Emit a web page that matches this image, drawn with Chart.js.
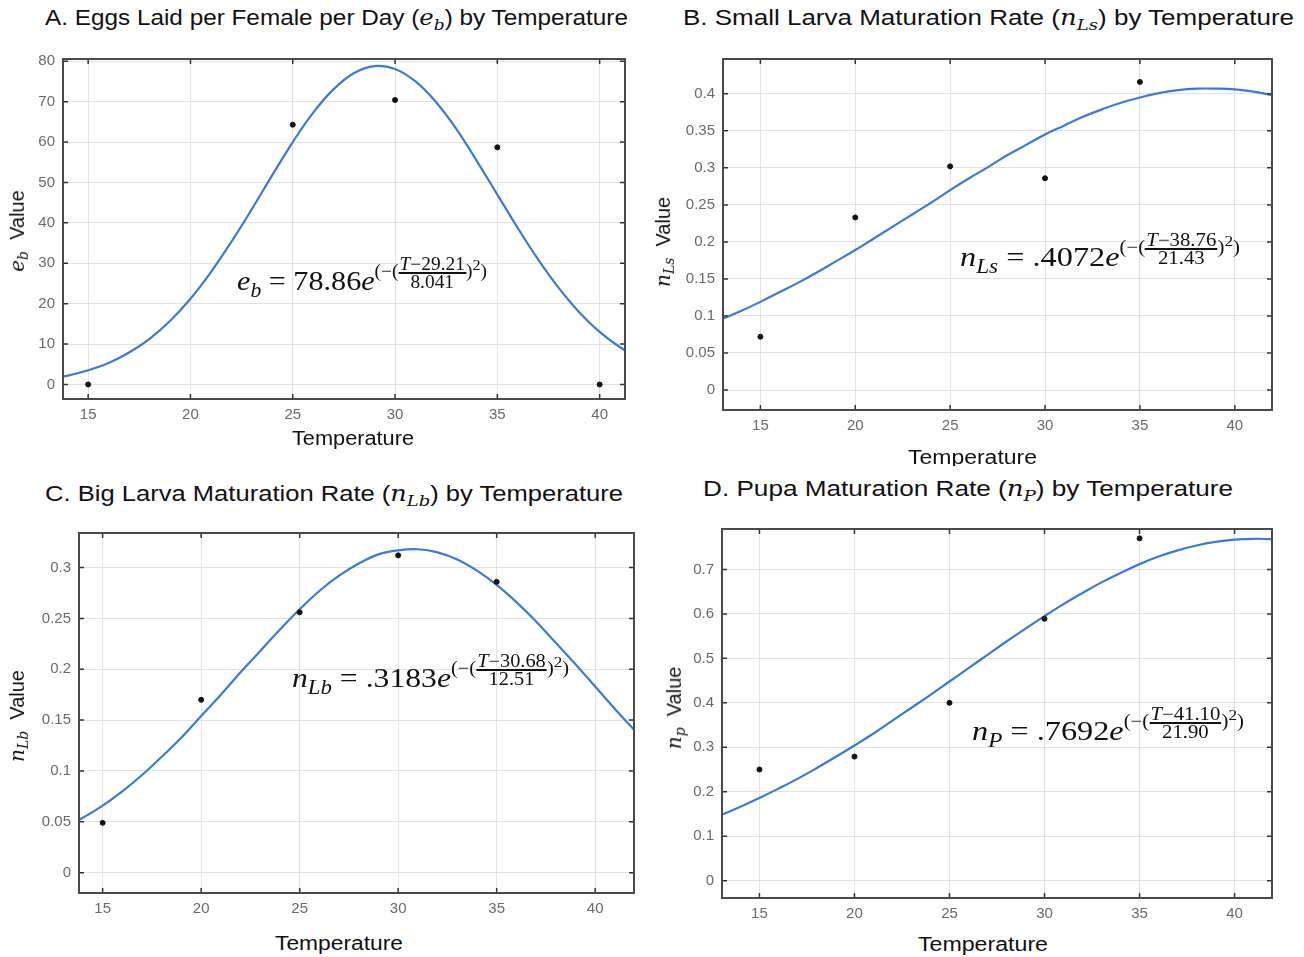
<!DOCTYPE html>
<html lang="en">
<head>
    <meta charset="UTF-8">
    <title>Temperature fits</title>
    <style>
        body { margin: 0; background: #fff; width: 1304px; height: 957px; position: relative; overflow: hidden;
               font-family: "Liberation Sans", Arial, sans-serif; color: #111; }
        canvas { position: absolute; }
        .title, .xlab, .ylab, .eq { position: absolute; white-space: nowrap; }
        .title { font-size: 22px; transform-origin: 0 0; }
        .xlab { font-size: 20px; transform-origin: 0 0; }
        .ylab { font-size: 20px; transform: translate(-50%, -50%) rotate(-90deg); }
        .m { font-family: "DejaVu Serif", "Liberation Serif", serif; font-style: italic; }
        .m sub { font-size: 0.7em; vertical-align: -0.3em; }
        .eq { font-family: "Liberation Serif", "DejaVu Serif", serif; font-size: 28px; transform-origin: 0 0; }
        .eq i { font-style: italic; }
        .eq sub { font-size: 0.72em; vertical-align: -0.35em; font-style: italic; }
        .eq .sup { display: inline-block; font-size: 18px; vertical-align: 13px; }
        .frac { display: inline-block; vertical-align: middle; text-align: center; line-height: 16px; }
        .frac .num { display: block; border-bottom: 2px solid #111; padding: 0 1px; }
        .frac .den { display: block; }
        .clipB { position: absolute; left: 650px; top: 440px; width: 654px; height: 26px; overflow: hidden; }
    </style>
</head>
<body>

    <div class="title" data-w="583" style="left:45px; top:5px;">A. Eggs Laid per Female per Day (<span class="m">e<sub>b</sub></span>) by Temperature</div>
    <div class="title" data-w="611" style="left:683px; top:5px;">B. Small Larva Maturation Rate (<span class="m">n<sub>Ls</sub></span>) by Temperature</div>
    <div class="title" data-w="578" style="left:45px; top:481px;">C. Big Larva Maturation Rate (<span class="m">n<sub>Lb</sub></span>) by Temperature</div>
    <div class="title" data-w="530" style="left:703px; top:476px;">D. Pupa Maturation Rate (<span class="m">n<sub>P</sub></span>) by Temperature</div>

    <canvas id="chartA"></canvas>
    <canvas id="chartB"></canvas>
    <canvas id="chartC"></canvas>
    <canvas id="chartD"></canvas>

    <div class="xlab" data-w="122" style="left:292px; top:427px;">Temperature</div>
    <div class="clipB"><div class="xlab" data-w="129" style="left:258px; top:6px;">Temperature</div></div>
    <div class="xlab" data-w="128" style="left:275px; top:932px;">Temperature</div>
    <div class="xlab" data-w="130" style="left:918px; top:933px;">Temperature</div>

    <div class="ylab" style="left:18px; top:231px;"><span class="m">e<sub>b</sub></span>&nbsp; Value</div>
    <div class="ylab" style="left:664px; top:242px;"><span class="m">n<sub>Ls</sub></span>&nbsp; Value</div>
    <div class="ylab" style="left:18px; top:716px;"><span class="m">n<sub>Lb</sub></span>&nbsp; Value</div>
    <div class="ylab" style="left:675px; top:708px;"><span class="m">n<sub>p</sub></span>&nbsp; Value</div>

    <div class="eq" data-w="250" style="left:237px; top:256px;"><i>e</i><sub>b</sub> = 78.86<i>e</i><span class="sup">(−(<span class="frac"><span class="num"><i>T</i>−29.21</span><span class="den">8.041</span></span>)<sup>2</sup>)</span></div>
    <div class="eq" data-w="280" style="left:960px; top:232px;"><i>n</i><sub>Ls</sub> = .4072<i>e</i><span class="sup">(−(<span class="frac"><span class="num"><i>T</i>−38.76</span><span class="den">21.43</span></span>)<sup>2</sup>)</span></div>
    <div class="eq" data-w="277" style="left:292px; top:653px;"><i>n</i><sub>Lb</sub> = .3183<i>e</i><span class="sup">(−(<span class="frac"><span class="num"><i>T</i>−30.68</span><span class="den">12.51</span></span>)<sup>2</sup>)</span></div>
    <div class="eq" data-w="272" style="left:972px; top:706px;"><i>n</i><sub>P</sub> = .7692<i>e</i><span class="sup">(−(<span class="frac"><span class="num"><i>T</i>−41.10</span><span class="den">21.90</span></span>)<sup>2</sup>)</span></div>

    <script src="https://cdn.jsdelivr.net/npm/chart.js@4"></script>
    <script>
    // temperatures shared by all panels
    const tempTicks = [15, 20, 25, 30, 35, 40];
    const fitTemp = [13, 14, 15, 16, 17, 18, 19, 20, 21, 22, 23, 24, 25, 26, 27,
                     28, 29, 30, 31, 32, 33, 34, 35, 36, 37, 38, 39, 40, 41, 42];

    // A. eggs laid per female per day
    const eggTicks = [0, 10, 20, 30, 40, 50, 60, 70, 80];
    const eggTickLabels = ['0', '10', '20', '30', '40', '50', '60', '70', '80'];
    const eggObsTemp = [15, 25, 30, 35, 40];
    const eggObs = [0, 64.3, 70.4, 58.7, 0];
    const eggFit = [1.4, 2.2, 3.5, 5.3, 7.9, 11.3, 15.7, 21.2, 27.8, 35.3, 43.4, 51.8, 60.0, 67.3, 73.1,
                    77.1, 78.8, 78.1, 75.0, 69.9, 63.2, 55.3, 47.0, 38.7, 30.9, 23.9, 17.9, 13.0, 9.2, 6.3];

    // B. small larva maturation rate
    const lsTicks = [0, 0.05, 0.1, 0.15, 0.2, 0.25, 0.3, 0.35, 0.4];
    const lsTickLabels = ['0', '0.05', '0.1', '0.15', '0.2', '0.25', '0.3', '0.35', '0.4'];
    const lsObsTemp = [15, 20, 25, 30, 35];
    const lsObs = [0.072, 0.233, 0.302, 0.286, 0.416];
    const lsFit = [0.096, 0.107, 0.119, 0.132, 0.145, 0.159, 0.174, 0.189, 0.205, 0.221, 0.237, 0.253, 0.270, 0.286, 0.301,
                   0.317, 0.331, 0.345, 0.357, 0.369, 0.379, 0.388, 0.395, 0.401, 0.405, 0.407, 0.407, 0.406, 0.403, 0.398];

    // C. big larva maturation rate
    const lbTicks = [0, 0.05, 0.1, 0.15, 0.2, 0.25, 0.3];
    const lbTickLabels = ['0', '0.05', '0.1', '0.15', '0.2', '0.25', '0.3'];
    const lbObsTemp = [15, 20, 25, 30, 35];
    const lbObs = [0.049, 0.170, 0.256, 0.312, 0.286];
    const lbFit = [0.043, 0.054, 0.066, 0.080, 0.096, 0.114, 0.133, 0.154, 0.175, 0.197, 0.218, 0.239, 0.259, 0.277, 0.292,
                   0.304, 0.313, 0.317, 0.318, 0.315, 0.308, 0.297, 0.283, 0.266, 0.247, 0.226, 0.205, 0.183, 0.161, 0.140];

    // D. pupa maturation rate
    const pTicks = [0, 0.1, 0.2, 0.3, 0.4, 0.5, 0.6, 0.7];
    const pTickLabels = ['0', '0.1', '0.2', '0.3', '0.4', '0.5', '0.6', '0.7'];
    const pObsTemp = [15, 20, 25, 30, 35];
    const pObs = [0.250, 0.279, 0.400, 0.589, 0.770];
    const pFit = [0.148, 0.166, 0.186, 0.207, 0.229, 0.253, 0.278, 0.304, 0.331, 0.360, 0.389, 0.418, 0.448, 0.478, 0.508,
                  0.538, 0.567, 0.595, 0.622, 0.647, 0.671, 0.692, 0.712, 0.729, 0.743, 0.754, 0.762, 0.767, 0.769, 0.768];

    // box around the plot with small inward ticks on every side
    const framePlugin = {
        id: 'frame',
        afterDraw(chart) {
            const ctx = chart.ctx;
            const a = chart.chartArea;
            const x = chart.scales.x, y = chart.scales.y;
            ctx.save();
            ctx.strokeStyle = '#333';
            ctx.lineWidth = 1.5;
            ctx.beginPath();
            x.ticks.forEach(function(t) {
                const px = x.getPixelForValue(t.value);
                ctx.moveTo(px, a.bottom); ctx.lineTo(px, a.bottom - 5);
                ctx.moveTo(px, a.top); ctx.lineTo(px, a.top + 5);
            });
            y.ticks.forEach(function(t) {
                const py = y.getPixelForValue(t.value);
                ctx.moveTo(a.left, py); ctx.lineTo(a.left + 5, py);
                ctx.moveTo(a.right, py); ctx.lineTo(a.right - 5, py);
            });
            ctx.stroke();
            ctx.strokeStyle = '#4a4a4a';
            ctx.lineWidth = 2;
            ctx.strokeRect(a.left, a.top, a.right - a.left, a.bottom - a.top);
            ctx.restore();
        }
    };

    function pairs(xs, ys) {
        return xs.map(function(v, i) { return { x: v, y: ys[i] }; });
    }

    function drawPanel(id, box, xMin, xMax, yMin, yMax, yTicks, yLabels, fit, obsX, obs) {
        const padL = 52, padT = 12, padR = 12, padB = 34;
        const canvas = document.getElementById(id);
        canvas.width = box.right - box.left + padL + padR;
        canvas.height = box.bottom - box.top + padT + padB;
        canvas.style.left = (box.left - padL) + 'px';
        canvas.style.top = (box.top - padT) + 'px';

        new Chart(canvas, {
            type: 'scatter',
            data: {
                datasets: [{
                    type: 'line',
                    data: pairs(fitTemp, fit),
                    borderColor: '#3d7bd0',
                    borderWidth: 2.2,
                    pointRadius: 0,
                    tension: 0.4,
                    clip: 0,
                    order: 2
                }, {
                    data: pairs(obsX, obs),
                    backgroundColor: '#111',
                    borderColor: '#111',
                    pointRadius: 2.5,
                    order: 1
                }]
            },
            options: {
                responsive: false,
                animation: false,
                devicePixelRatio: 1,
                layout: { autoPadding: false, padding: { top: padT, right: padR, left: 0, bottom: 0 } },
                plugins: { legend: { display: false }, tooltip: { enabled: false } },
                scales: {
                    x: {
                        type: 'linear', min: xMin, max: xMax,
                        afterFit: function(s) { s.height = padB; },
                        afterBuildTicks: function(s) { s.ticks = tempTicks.map(function(v) { return { value: v }; }); },
                        grid: { color: '#e2e2e2', drawTicks: false },
                        border: { display: false },
                        ticks: { color: '#6a6a6a', padding: 7, font: { family: 'Liberation Sans', size: 15 },
                                 maxRotation: 0, callback: function(v) { return String(v); } }
                    },
                    y: {
                        type: 'linear', min: yMin, max: yMax,
                        afterFit: function(s) { s.width = padL; },
                        afterBuildTicks: function(s) { s.ticks = yTicks.map(function(v) { return { value: v }; }); },
                        grid: { color: '#e2e2e2', drawTicks: false },
                        border: { display: false },
                        ticks: { color: '#6a6a6a', padding: 8, font: { family: 'Liberation Sans', size: 15 },
                                 callback: function(v) { return yLabels[yTicks.indexOf(v)]; } }
                    }
                }
            },
            plugins: [framePlugin]
        });
    }

    drawPanel('chartA', { left: 63, right: 625, top: 54, bottom: 399 }, 13.77, 41.24, -3.6, 80.56,
              eggTicks, eggTickLabels, eggFit, eggObsTemp, eggObs);
    drawPanel('chartB', { left: 723, right: 1272, top: 54, bottom: 410 }, 13.03, 41.96, -0.027, 0.447,
              lsTicks, lsTickLabels, lsFit, lsObsTemp, lsObs);
    drawPanel('chartC', { left: 79, right: 634, top: 528, bottom: 893 }, 13.8, 41.97, -0.02, 0.334,
              lbTicks, lbTickLabels, lbFit, lbObsTemp, lbObs);
    drawPanel('chartD', { left: 722, right: 1272, top: 524, bottom: 898 }, 13.03, 41.97, -0.039, 0.791,
              pTicks, pTickLabels, pFit, pObsTemp, pObs);

    // stretch text lines to the widths seen in the figure
    document.querySelectorAll('[data-w]').forEach(function(el) {
        const w = el.getBoundingClientRect().width;
        el.style.transform = 'scaleX(' + (Number(el.dataset.w) / w) + ')';
    });
    </script>
</body>
</html>
